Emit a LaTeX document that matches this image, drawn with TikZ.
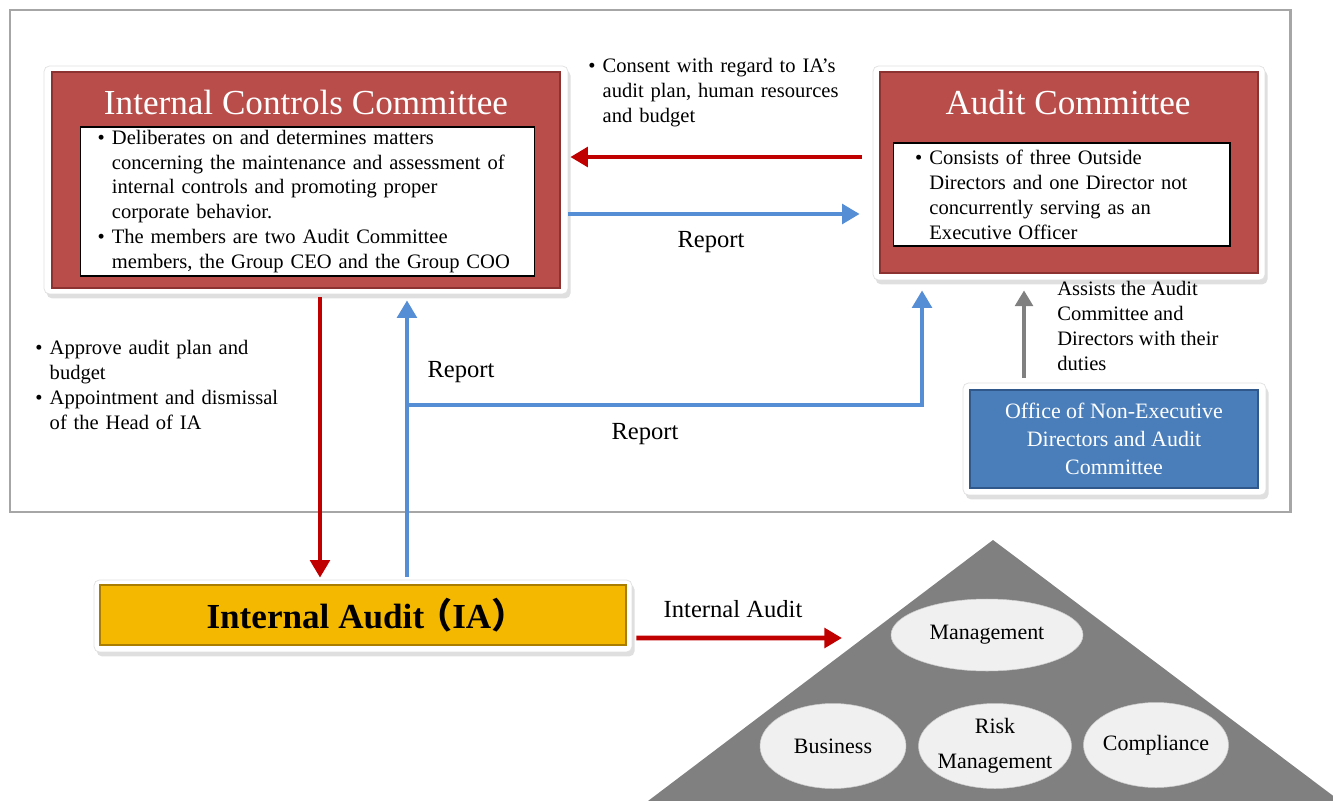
\documentclass[tikz,border=0pt]{standalone}
\usepackage{fontspec}
\setmainfont{Liberation Serif}
\newfontfamily\cjk{Noto Sans CJK JP}
\usetikzlibrary{arrows.meta, positioning, shapes.geometric, shadows}

\definecolor{boxred}{RGB}{185,77,74}
\definecolor{boxredd}{RGB}{140,50,48}
\definecolor{boxblue}{RGB}{74,126,187}
\definecolor{boxblued}{RGB}{48,88,138}
\definecolor{boxgold}{RGB}{245,184,0}
\definecolor{boxgoldd}{RGB}{170,125,0}
\definecolor{arrred}{RGB}{192,0,0}
\definecolor{arrblue}{RGB}{85,142,213}
\definecolor{arrgray}{RGB}{128,128,128}
\definecolor{pyramid}{RGB}{128,128,128}
\definecolor{ovalgray}{RGB}{240,240,240}

% bullet paragraph, continuation lines hang under the text
\newcommand{\bul}[1]{\noindent\hangindent=0.7em\hangafter=1\makebox[0.7em][l]{\textbullet}#1\par}
\newcommand{\bodyfont}{\fontsize{11.7}{14.2}\selectfont}
\newcommand{\ovalfont}{\fontsize{12.5}{20}\selectfont}

\begin{document}
\begin{tikzpicture}[x=0.02cm, y=-0.02cm,
    boxframe/.style={draw=black!12, fill=white, rounded corners=3pt,
      drop shadow={opacity=0.25, shadow xshift=1.5pt, shadow yshift=-2.5pt}},
    redbox/.style={fill=boxred, draw=boxredd, line width=0.8pt},
    headtext/.style={text=white, font=\fontsize{20}{24}\selectfont},
    inbox/.style={draw=black, fill=white, line width=0.6pt, align=left, font=\bodyfont, inner ysep=0pt},
    note/.style={inner sep=0pt, align=left, font=\bodyfont},
    rep/.style={font=\fontsize{14}{16}\selectfont},
    oval/.style={ellipse, fill=ovalgray, draw=ovalgray!85!black, line width=0.3pt, inner sep=0pt},
    ovaltext/.style={align=center, font=\ovalfont, inner sep=0pt},
    redarr/.style={draw=arrred, line width=2.8pt, -{Triangle[length=10pt, width=11pt]}},
    bluearr/.style={draw=arrblue, line width=2.6pt, -{Triangle[length=10pt, width=11pt]}},
    grayarr/.style={draw=arrgray, line width=2.4pt, -{Triangle[length=9pt, width=10pt]}}
  ]
  \useasboundingbox (0,0) rectangle (1333,801);
  % board
  \draw[draw=black!35, line width=1.7pt] (10,10) rectangle (1290,512);

  % Internal Controls Committee
  \node[boxframe, minimum width=10.48cm, minimum height=4.56cm] (iccFrame) at (306,180) {};
  \node[redbox, minimum width=10.16cm, minimum height=4.32cm] (icc) at (306,180) {};
  \node[headtext] (iccHead) at (306,102) {Internal\ Controls\ Committee};
  \node[inbox, text width=8.4cm, inner xsep=0.35cm, minimum height=2.98cm] (iccText) at (307.5,201.5) {%
    \bul{Deliberates on and determines matters\newline concerning the maintenance and assessment of\newline internal controls and promoting proper\newline corporate behavior.}%
    \bul{The members are two Audit Committee\newline members, the Group CEO and the Group COO}};

  % Audit Committee
  \node[boxframe, minimum width=7.84cm, minimum height=4.28cm] (acFrame) at (1069,173) {};
  \node[redbox, minimum width=7.56cm, minimum height=4.02cm] (ac) at (1069,172.5) {};
  \node[headtext] (acHead) at (1068,102) {Audit\ Committee};
  \node[inbox, text width=5.86cm, inner xsep=0.44cm, minimum height=2.06cm] (acText) at (1061.5,194.5) {%
    \bul{Consists of three Outside\newline Directors and one Director not\newline concurrently serving as an\newline Executive Officer}};

  % Office
  \node[boxframe, minimum width=6.06cm, minimum height=2.24cm] (offFrame) at (1114.5,439) {};
  \node[fill=boxblue, draw=boxblued, line width=0.8pt, minimum width=5.76cm, minimum height=1.96cm,
    text=white, align=center, font=\fontsize{12.5}{16}\selectfont] (office) at (1114,439)
    {Office of Non-Executive\\Directors and Audit\\Committee};

  % Internal Audit
  \node[boxframe, minimum width=10.76cm, minimum height=1.44cm] (iaFrame) at (363,616) {};
  \node[fill=boxgold, draw=boxgoldd, line width=0.8pt, minimum width=10.52cm, minimum height=1.2cm,
    font=\fontsize{20}{24}\selectfont\bfseries] (ia) at (363,615)
    {Internal Audit{\cjk\kern-0.2em（}IA{\cjk）\kern-0.2em}};

  % pyramid
  \fill[pyramid] (993,540) -- (1340,801) -- (648,801) -- cycle;
  \node[oval, minimum width=3.84cm, minimum height=1.44cm] (mgmt) at (987,635) {};
  \node[ovaltext] (mgmtText) at (mgmt) {Management};
  \node[oval, minimum width=2.92cm, minimum height=1.7cm] (biz) at (833,746) {};
  \node[ovaltext] (bizText) at (biz) {Business};
  \node[oval, minimum width=3.06cm, minimum height=1.7cm] (risk) at (995,746) {};
  \node[ovaltext] (riskText) at (risk) {Risk\\Management};
  \node[oval, minimum width=2.9cm, minimum height=1.7cm] (comp) at (1156,745) {};
  \node[ovaltext] (compText) at (comp) {Compliance};

  % arrows
  \draw[redarr] ([xshift=-0.22cm, yshift=0.32cm]acFrame.west) -- ([xshift=0.04cm, yshift=0.32cm]acFrame.west -| iccFrame.east);
  \draw[bluearr] ([yshift=-0.82cm]acFrame.west -| iccFrame.east) -- ([xshift=-0.26cm, yshift=-0.82cm]acFrame.west);
  \draw[redarr] ([xshift=0.28cm, yshift=-0.06cm]iccFrame.south) -- ([xshift=0.28cm, yshift=0.04cm]iccFrame.south |- iaFrame.north);
  \draw[bluearr] ([xshift=2.02cm, yshift=0.06cm]iccFrame.south |- iaFrame.north) -- ([xshift=2.02cm, yshift=-0.12cm]iccFrame.south);
  \coordinate (split) at (407,405);
  \draw[bluearr] (split) -| ([xshift=-2.94cm, yshift=-0.2cm]acFrame.south);
  \draw[grayarr] ([xshift=-1.81cm, yshift=0.1cm]offFrame.north) -- ([xshift=-1.81cm, yshift=-0.2cm]offFrame.north |- acFrame.south);
  \coordinate (auditTip) at (842,638);
  \draw[redarr] ([xshift=0.08cm, yshift=-0.44cm]iaFrame.east) -- (auditTip);

  % labels
  \node[rep] (rep1) at (711,242) {Report};
  \node[rep] (rep2) at (461,372) {Report};
  \node[rep] (rep3) at (645,434) {Report};
  \node[rep] (auditLbl) at (733,609) {Internal Audit};
  \node[note, text width=5.3cm, anchor=north west] (consent) at (588,58) {%
    \bul{Consent with regard to IA’s\newline audit plan, human resources\newline and budget}};
  \node[note, text width=5cm, anchor=north west] (approve) at (35,340) {%
    \bul{Approve audit plan and\newline budget}%
    \bul{Appointment and dismissal\newline of the Head of IA}};
  \node[note, anchor=north west] (assist) at (1057,281) {Assists the Audit\\Committee and\\Directors with their\\duties};
\end{tikzpicture}
\end{document}
